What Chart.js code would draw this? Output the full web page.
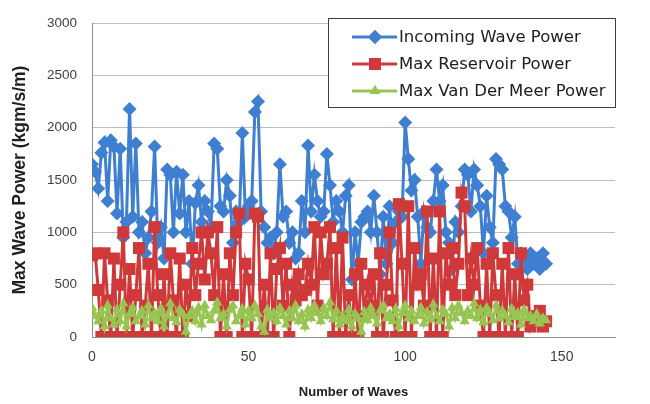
<!DOCTYPE html>
<html>
<head>
<meta charset="utf-8">
<script src="https://cdn.jsdelivr.net/npm/chart.js@4"></script>
<style>
  html, body { margin: 0; padding: 0; background: #fff; }
  #wrap { width: 650px; height: 404px; }
</style>
</head>
<body>
<div id="wrap"><canvas id="myChart" width="650" height="404"></canvas></div>
<script>
// values, one per wave (0..145)
const incoming = [
  1650, 1580, 1420, 1760, 1860, 1300, 1880, 1820, 1180, 1800,
  950, 1100, 2180, 1150, 1850, 1000, 1100, 800, 950, 1200,
  1820, 900, 1050, 750, 1600, 1550, 1000, 1580, 1180, 1550,
  1000, 1300, 700, 1280, 1450, 1100, 1300, 1200, 1050, 1850,
  1800, 1250, 1200, 1500, 1350, 900, 1200, 1100, 1950, 1150,
  1250, 1300, 2150, 2250, 1200, 1050, 900, 950, 800, 1000,
  1650, 1150, 1200, 900, 1000, 750, 800, 1300, 1000, 1830,
  1200, 1550, 1300, 1150, 1200, 1750, 1450, 1100, 1300, 1200,
  1000, 1350, 1450, 550, 1000, 700, 1100, 1150, 1200, 1000,
  1350, 1000, 600, 1150, 700, 1250, 900, 1100, 1200, 1150,
  2050, 1700, 1400, 1500, 1150, 700, 1200, 1050, 1000, 1300,
  1600, 1300, 1450, 1000, 900, 650, 1100, 1000, 1250, 1600,
  1550, 1200, 1600, 1450, 1250, 800, 1350, 1050, 900, 1700,
  1650, 1600, 1250, 1200, 950, 1150, 700, 800, 750, 650,
  800, 700, 750, 650, 800, 700
];
const reservoir = [
  780, 800, 450, 0, 800, 350, 0, 750, 0, 500,
  1000, 0, 650, 0, 400, 850, 0, 300, 700, 0,
  1050, 400, 0, 600, 0, 800, 350, 0, 750, 0,
  500, 200, 850, 400, 700, 1000, 550, 1000, 800, 400,
  1050, 0, 600, 0, 800, 400, 1000, 1180, 0, 700,
  550, 0, 1180, 1150, 0, 500, 0, 800, 0, 650,
  850, 300, 700, 0, 500, 350, 600, 400, 450, 700,
  500, 1050, 300, 1000, 600, 700, 1050, 0, 850, 0,
  950, 0, 400, 0, 600, 0, 700, 200, 500, 300,
  600, 0, 800, 0, 500, 1000, 350, 0, 1270, 700,
  0, 1250, 0, 850, 500, 600, 300, 1200, 0, 750,
  0, 1200, 0, 800, 500, 850, 400, 700, 1380, 1250,
  400, 750, 500, 850, 300, 0, 700, 0, 800, 400,
  0, 700, 0, 850, 0, 600, 0, 800, 350, 500,
  100, 200, 150, 250, 100, 150
];
const vanDerMeer = [
  280, 200, 150, 250, 100, 300, 180, 120, 260, 150,
  320, 100, 220, 280, 150, 200, 250, 120, 300, 180,
  230, 150, 270, 100, 200, 320, 180, 140, 260, 220,
  50, 200, 250, 150, 280, 120, 300, 200, 160, 250,
  330, 180, 220, 100, 260, 300, 150, 200, 270, 120,
  250, 180, 300, 220, 100, 50, 260, 180, 230, 150,
  280, 200, 120, 250, 180, 300, 150, 220, 100, 260,
  180, 300, 230, 150, 280, 200, 330, 170, 250, 120,
  200, 150, 260, 100, 220, 180, 50, 240, 160, 280,
  200, 130, 250, 300, 180, 220, 150, 270, 100, 230,
  300, 180, 250, 150, 200, 280, 130, 240, 170, 310,
  200, 150, 260, 220, 100, 280, 180, 300, 230, 150,
  250, 200, 320, 180, 260, 140, 280, 220, 160, 300,
  180, 250, 200, 140, 270, 190, 230, 120, 260, 180,
  200, 150, 220, 130, 180, 160
];
const waves = incoming.map((_, i) => i);
const seriesNames = ['Incoming Wave Power', 'Max Reservoir Power', 'Max Van Der Meer Power'];
const xTicks = [0, 50, 100, 150];
const yTicks = [0, 500, 1000, 1500, 2000, 2500, 3000];

Chart.defaults.font.family = '"Liberation Sans", Arial, sans-serif';
Chart.defaults.color = '#404040';

const toPoints = (vals) => vals.map((v, i) => ({x: waves[i], y: v}));

// legend box sitting inside the plot, like the excel one
const boxLegend = {
  id: 'boxLegend',
  afterDraw(chart) {
    const ctx = chart.ctx;
    ctx.save();
    ctx.fillStyle = '#fff';
    ctx.fillRect(328.5, 18.5, 287, 89);
    ctx.strokeStyle = '#404040';
    ctx.lineWidth = 1;
    ctx.strokeRect(328.5, 18.5, 287, 89);
    [0, 1, 2].forEach((k, i) => {
      const ds = chart.data.datasets.find(d => d.label === seriesNames[k]);
      const y = 37 + i * 27;
      ctx.strokeStyle = ds.borderColor;
      ctx.lineWidth = 3;
      ctx.beginPath();
      ctx.moveTo(352, y);
      ctx.lineTo(397, y);
      ctx.stroke();
      ctx.fillStyle = ds.backgroundColor;
      Chart.helpers.drawPoint(ctx, {pointStyle: ds.pointStyle, radius: ds.pointRadius, rotation: 0, borderWidth: 0}, 375, y);
      ctx.fill();
      ctx.fillStyle = '#202020';
      ctx.font = '16.5px "DejaVu Sans", sans-serif';
      ctx.textBaseline = 'middle';
      ctx.fillText(seriesNames[k], 399, y + 1);
    });
    ctx.restore();
  }
};

new Chart(document.getElementById('myChart'), {
  type: 'line',
  data: {
    datasets: [
      {
        label: seriesNames[2],
        data: toPoints(vanDerMeer),
        borderColor: '#98c552',
        backgroundColor: '#98c552',
        borderWidth: 3,
        pointStyle: 'triangle',
        pointRadius: 6,
        pointBorderWidth: 0,
        order: 0
      },
      {
        label: seriesNames[1],
        data: toPoints(reservoir),
        borderColor: '#d0393a',
        backgroundColor: '#d0393a',
        borderWidth: 3,
        pointStyle: 'rect',
        pointRadius: 8.5,
        pointBorderWidth: 0,
        order: 1
      },
      {
        label: seriesNames[0],
        data: toPoints(incoming),
        borderColor: '#3f7fd1',
        backgroundColor: '#3f7fd1',
        borderWidth: 3,
        pointStyle: 'rectRot',
        pointRadius: 7,
        pointBorderWidth: 0,
        order: 2
      }
    ]
  },
  options: {
    responsive: false,
    animation: false,
    layout: { padding: { left: 6, right: 35, top: 11, bottom: 0 } },
    plugins: {
      legend: { display: false },
      tooltip: { enabled: false }
    },
    scales: {
      x: {
        type: 'linear',
        min: 0,
        max: 167,
        afterBuildTicks: (s) => { s.ticks = xTicks.map(v => ({value: v})); },
        afterFit: (s) => { s.height = 67; },
        grid: { display: false, drawTicks: false },
        border: { color: '#8c8c8c' },
        ticks: { padding: 12, font: { size: 14 }, maxRotation: 0, callback: (v) => String(v) },
        title: {
          display: true,
          text: 'Number of Waves',
          font: { size: 13, weight: 'bold' },
          color: '#202020',
          padding: { top: 11 }
        }
      },
      y: {
        min: 0,
        max: 3000,
        afterBuildTicks: (s) => { s.ticks = yTicks.map(v => ({value: v})); },
        afterFit: (s) => { s.width = 86; },
        grid: { color: '#bdbdbd', drawTicks: false },
        border: { color: '#8c8c8c' },
        ticks: { padding: 15, font: { size: 13.5 }, callback: (v) => String(v) },
        title: {
          display: true,
          text: 'Max Wave Power (kgm/s/m)',
          font: { size: 17.5, weight: 'bold' },
          color: '#202020',
          padding: { bottom: 0 }
        }
      }
    }
  },
  plugins: [boxLegend]
});
</script>
</body>
</html>
